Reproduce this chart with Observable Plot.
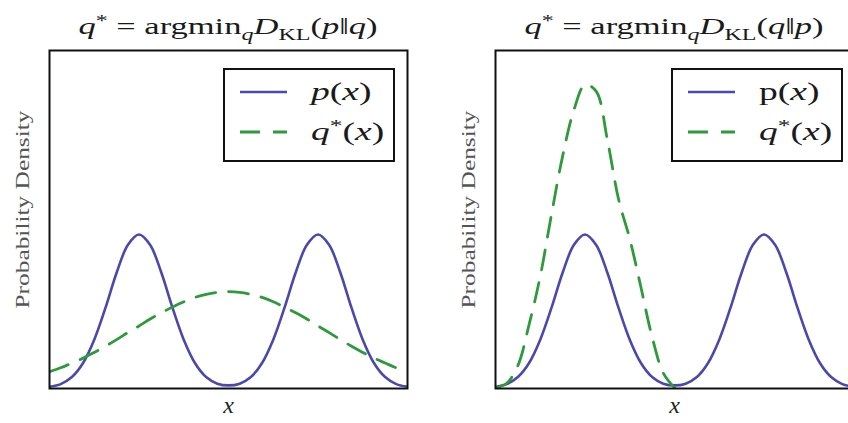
<!DOCTYPE html>
<html><head><meta charset="utf-8">
<script src="https://cdn.jsdelivr.net/npm/d3@7"></script>
<script src="https://cdn.jsdelivr.net/npm/@observablehq/plot@0.6"></script>
<style>
html,body{margin:0;padding:0;background:#fff;}
#wrap{position:relative;width:848px;height:423px;overflow:hidden;font-family:"Liberation Serif",serif;color:#1a1a1a;}
.panel{position:absolute;top:0;}
.title{position:absolute;top:14px;font-size:23px;white-space:nowrap;transform:translateX(-50%) scaleX(1.5);line-height:26px;}
.title sub{font-size:16px;vertical-align:-6px;line-height:0;}
.title sup{font-size:16px;vertical-align:8px;line-height:0;}
.legend{position:absolute;box-sizing:border-box;border:2px solid #111;background:#fff;width:172px;height:94px;top:68px;}
.legend svg{position:absolute;left:0;top:0;}
.lt{position:absolute;left:86px;font-size:25px;line-height:26px;white-space:nowrap;transform-origin:left center;transform:scaleX(1.5);}
.lt sup{font-size:17px;vertical-align:9px;line-height:0;}
</style></head>
<body>
<div id="wrap"></div>
<script>
// x positions of the samples
const xs = [-4,-3.75,-3.5,-3.25,-3,-2.75,-2.5,-2.25,-2,-1.75,-1.5,-1.25,-1,-0.75,-0.5,-0.25,0,
            0.25,0.5,0.75,1,1.25,1.5,1.75,2,2.25,2.5,2.75,3,3.25,3.5,3.75,4];
// p(x): bimodal density (both panels)
const pVals = [0.004,0.010,0.026,0.058,0.111,0.183,0.263,0.326,0.350,0.326,0.263,0.183,0.111,0.058,0.026,0.011,0.007,
               0.011,0.026,0.058,0.111,0.183,0.263,0.326,0.350,0.326,0.263,0.183,0.111,0.058,0.026,0.010,0.004];
// q*(x) for argmin D_KL(p||q): broad single mode
const qLeftVals = [0.038,0.047,0.058,0.069,0.082,0.096,0.111,0.127,0.142,0.158,0.172,0.185,0.197,0.207,0.214,0.2185,0.220,
                   0.2185,0.214,0.207,0.197,0.185,0.172,0.158,0.142,0.127,0.111,0.096,0.082,0.069,0.058,0.047,0.038];
// q*(x) for argmin D_KL(q||p): narrow mode on the left peak
const qRightXs = [-4,-3.75,-3.5,-3.25,-3,-2.75,-2.5,-2.25,-2,-1.75,-1.5,-1.25,-1,-0.75,-0.5,-0.25,0];
const qRightVals = [0.002,0.012,0.052,0.145,0.255,0.395,0.528,0.632,0.690,0.675,0.565,0.430,0.340,0.230,0.117,0.035,0.002];

const titles = [
  '<i>q</i><sup>*</sup> = argmin<sub><i>q</i></sub><i>D</i><sub>KL</sub>(<i>p</i>‖<i>q</i>)',
  '<i>q</i><sup>*</sup> = argmin<sub><i>q</i></sub><i>D</i><sub>KL</sub>(<i>q</i>‖<i>p</i>)'
];
const legendP = ['<i>p</i>(<i>x</i>)', 'p(<i>x</i>)'];
const legendQ = '<i>q</i><sup>*</sup>(<i>x</i>)';
const yLabel = "Probability Density";
const xLabel = "x";

const BLUE = "#4b48ad", GREEN = "#2f9a3c";
const pData = xs.map((x,i)=>({x, y:pVals[i]}));
const qL = xs.map((x,i)=>({x, y:qLeftVals[i]}));
const qR = qRightXs.map((x,i)=>({x, y:qRightVals[i]}));

const wrap = document.getElementById("wrap");
function panel(qData, left, idx, legendLeft){
  const svg = Plot.plot({
    width:424, height:423, marginLeft:49, marginRight:17, marginTop:50, marginBottom:35,
    style:{background:"transparent", fontFamily:"Liberation Serif, serif"},
    x:{domain:[-4,4], axis:null},
    y:{domain:[0,0.768], axis:null},
    marks:[
      Plot.line(pData, {x:"x", y:"y", stroke:BLUE, strokeWidth:2.6, curve:"catmull-rom", clip:true}),
      Plot.line(qData, {x:"x", y:"y", stroke:GREEN, strokeWidth:2.8, strokeDasharray:"20,13", curve:"catmull-rom", clip:true}),
      Plot.frame({stroke:"#111", strokeWidth:2}),
      Plot.text([yLabel], {frameAnchor:"left", rotate:-90, dx:-27, dy:89, textAnchor:"start", fontSize:19, fill:"#555", text:d=>d, className:"ylab"}),
      Plot.text([xLabel], {frameAnchor:"bottom", dy:24, fontSize:24, fontStyle:"italic", fill:"#222", text:d=>d})
    ]
  });
  d3.select(svg).selectAll(".ylab text").attr("textLength", 198).attr("lengthAdjust", "spacingAndGlyphs");
  svg.classList.add("panel");
  svg.style.left = left + "px";
  wrap.appendChild(svg);
  const t = document.createElement("div");
  t.className = "title"; t.innerHTML = titles[idx];
  t.style.left = (left + 49 + 179) + "px";
  wrap.appendChild(t);
  const lg = document.createElement("div");
  lg.className = "legend";
  lg.style.left = legendLeft + "px";
  lg.innerHTML = `<svg width="170" height="92">
    <line x1="15" x2="62" y1="22" y2="22" stroke="${BLUE}" stroke-width="2.6"/>
    <line x1="15" x2="62" y1="62" y2="62" stroke="${GREEN}" stroke-width="2.8" stroke-dasharray="20,13"/>
  </svg>
  <div class="lt" style="top:9px">${legendP[idx]}</div>
  <div class="lt" style="top:49px">${legendQ}</div>`;
  wrap.appendChild(lg);
}
panel(qL, 0, 0, 223);
panel(qR, 446, 1, 671);
</script>
</body></html>
